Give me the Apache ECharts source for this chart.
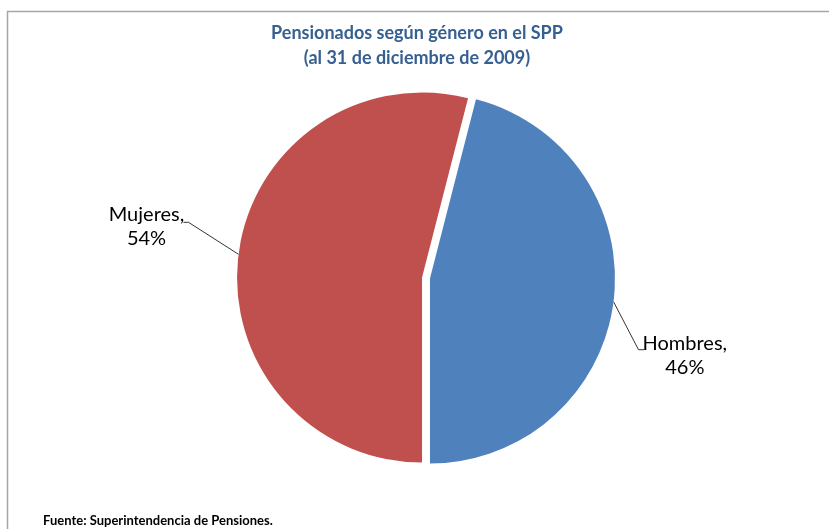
<!DOCTYPE html>
<html>
<head>
<meta charset="utf-8">
<script src="https://cdn.jsdelivr.net/npm/echarts@6/dist/echarts.min.js"></script>
<style>
  html, body { margin: 0; padding: 0; background: #fff; }
  #chart { width: 829px; height: 529px; }
</style>
</head>
<body>
<div id="chart"></div>
<script>
// datos del gráfico
var categorias = ['Hombres', 'Mujeres'];
var porcentajes = [46, 54];
var colores = ['#4F81BD', '#C0504D'];
var titulo = 'Pensionados según género en el SPP\n(al 31 de diciembre de 2009)';
var fuente = 'Fuente: Superintendencia de Pensiones.';

var myChart = echarts.init(document.getElementById('chart'));

var datos = categorias.map(function (nombre, i) {
  return {
    name: nombre,
    value: porcentajes[i],
    selected: true,
    itemStyle: { color: colores[i] }
  };
});

var option = {
  backgroundColor: '#fff',
  animation: false,
  title: [
    {
      text: titulo,
      left: 412,
      top: 16,
      textAlign: 'center',
      textStyle: {
        fontFamily: 'Lato',
        fontWeight: 'bold',
        fontSize: 18,
        lineHeight: 25,
        color: '#376092'
      }
    },
    {
      text: fuente,
      left: 38,
      top: 509,
      textStyle: {
        fontFamily: 'Lato',
        fontWeight: 'bold',
        fontSize: 13,
        color: '#000'
      }
    }
  ],
  graphic: [
    {
      type: 'rect',
      shape: { x: 7.5, y: 11.5, width: 1000, height: 1000 },
      style: { fill: 'none', stroke: '#A6A6A6', lineWidth: 1.5 },
      silent: true
    }
  ],
  series: [
    {
      type: 'pie',
      center: [426, 278],
      radius: 185,
      startAngle: 75.6,
      clockwise: true,
      selectedMode: 'multiple',
      selectedOffset: 4,
      data: datos,
      label: {
        show: true,
        position: 'outside',
        formatter: function (p) {
          return '{a|' + p.name + ',}\n{a|' + p.value + '%}';
        },
        rich: {
          a: {
            fontFamily: 'Lato',
            fontSize: 20,
            lineHeight: 24,
            color: '#000',
            width: 82,
            align: 'center'
          }
        }
      },
      labelLine: {
        show: true,
        length: 12,
        length2: 6,
        lineStyle: { color: '#000', width: 0.8 }
      },
      labelLayout: function (params) {
        var p0 = params.labelLinePoints[0];
        var r = params.labelRect;
        var codo, fin, dx, dy;
        if (params.dataIndex === 0) {
          codo = [p0[0] + 25, p0[1] + 48];
          fin = [codo[0] + 6, codo[1]];
          dx = fin[0] - r.x - 2;
          dy = (fin[1] - 4 - 12) - r.y;
        } else {
          codo = [p0[0] - 50, p0[1] - 32];
          fin = [codo[0] - 5, codo[1]];
          dx = (fin[0] + 4 - r.width) - r.x;
          dy = (fin[1] - 6 - 12) - r.y;
        }
        return { dx: dx, dy: dy, labelLinePoints: [p0, codo, fin] };
      }
    }
  ]
};

myChart.setOption(option);
</script>
</body>
</html>
